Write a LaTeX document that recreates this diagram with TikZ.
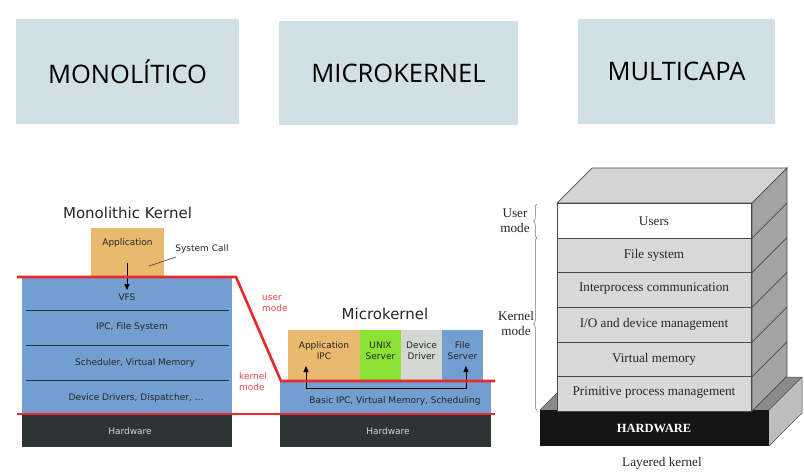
\documentclass[tikz,border=0pt]{standalone}
\usepackage{fontspec}
\setmainfont{DejaVu Sans}
\newfontfamily\titlefont{Open Sans}
\newfontfamily\seriffont{Liberation Serif}
\usetikzlibrary{decorations.pathreplacing,arrows.meta}
\definecolor{topbox}{HTML}{D1E0E4}
\definecolor{tblue}{HTML}{729FCF}
\definecolor{torange}{HTML}{E9B96E}
\definecolor{tgreen}{HTML}{8AE234}
\definecolor{tgray}{HTML}{D3D7CF}
\definecolor{tdark}{HTML}{2E3436}
\definecolor{tred}{HTML}{E8282B}
\definecolor{tredtext}{HTML}{E0484B}
\definecolor{sepline}{HTML}{1F2F45}
\definecolor{layfront}{HTML}{D9D9D9}
\definecolor{laytop}{HTML}{D4D4D4}
\definecolor{layside}{HTML}{A3A3A3}
\definecolor{layedge}{HTML}{4A4A4A}
\tikzset{
  topsq/.style={fill=topbox, inner sep=0pt, font=\titlefont\fontsize{25.5}{28}\selectfont},
  blk/.style={inner sep=0pt, draw=none},
  dtxt/.style={inner sep=0pt, font=\fontsize{9}{11}\selectfont, text=black!85},
  ttl/.style={inner sep=0pt, font=\fontsize{15}{18}\selectfont, text=black!85},
  redtxt/.style={inner sep=0pt, font=\fontsize{9}{11}\selectfont, text=tredtext, align=left, anchor=west},
  redline/.style={draw=tred, line width=2.6pt},
  laytxt/.style={inner sep=0pt, font=\seriffont\fontsize{13.2}{15}\selectfont, text=black!85},
  layrow/.style={fill=layfront, draw=layedge, line width=0.7pt, inner sep=0pt, minimum width=194, minimum height=34.7},
  brc/.style={draw=black!55, line width=0.5pt, decorate, decoration={brace, amplitude=3.5pt}},
}
\begin{document}
\begin{tikzpicture}[x=1pt,y=-1pt]
\useasboundingbox (0,0) rectangle (804,475);

% ---------- top title boxes ----------
\node[topsq, minimum width=223, minimum height=105] (mono) at (127.5,71.5) {MONOLÍTICO};
\node[topsq, minimum width=239, minimum height=104] (micro) at (398.5,73) {MICROKERNEL};
\node[topsq, minimum width=197, minimum height=105] (multi) at (676.5,71.5) {MULTICAPA};

% ---------- Monolithic kernel ----------
\node[ttl] (monottl) at (127.5,213) {Monolithic Kernel};
\node[blk, fill=torange, minimum width=73, minimum height=49] (app) at (127.5,252.5) {};
\node[dtxt] (apptxt) at (127.5,243) {Application};
\node[blk, fill=tblue, minimum width=210, minimum height=137] (monok) at (127,345.5) {};
\node[blk, fill=tdark, minimum width=210, minimum height=33] (monohw) at (127,430.5) {};
\node[dtxt, text=tgray] (monohwtxt) at (130,431) {Hardware};
\coordinate (s1a) at (26,310); \coordinate (s1b) at (229,310);
\coordinate (s2a) at (26,345); \coordinate (s2b) at (229,345);
\coordinate (s3a) at (26,380); \coordinate (s3b) at (229,380);
\draw[sepline, line width=0.8pt] (s1a) -- (s1b) (s2a) -- (s2b) (s3a) -- (s3b);
\node[dtxt] (vfs) at (127,297) {VFS};
\node[dtxt] (ipcfs) at (132,327) {IPC, File System};
\node[dtxt] (sched) at (135,363) {Scheduler, Virtual Memory};
\node[dtxt] (devdr) at (136,398) {Device Drivers, Dispatcher, ...};
\node[dtxt] (syscall) at (202,249) {System Call};
\coordinate (sca) at (149,266); \coordinate (scb) at (176,257);
\draw[black!80, line width=0.6pt] (sca) -- (scb);
\coordinate (arra) at (127,263); \coordinate (arrb) at (127,290);
\draw[black, line width=0.7pt, -{Triangle[length=6pt,width=5pt]}] (arra) -- (arrb);

% ---------- Microkernel ----------
\node[ttl] (microttl) at (385,314) {Microkernel};
\node[blk, fill=torange, minimum width=72, minimum height=51] (appipc) at (324,355.5) {};
\node[blk, fill=tgreen, minimum width=41, minimum height=51] (unix) at (380.5,355.5) {};
\node[blk, fill=tgray, minimum width=41, minimum height=51] (devd) at (421.5,355.5) {};
\node[blk, fill=tblue, minimum width=41, minimum height=51] (files) at (462.5,355.5) {};
\node[dtxt, align=center] (appipctxt) at (324,351) {Application\\IPC};
\node[dtxt, align=center] (unixtxt) at (380.5,351) {UNIX\\Server};
\node[dtxt, align=center] (devdtxt) at (421.5,351) {Device\\Driver};
\node[dtxt, align=center] (filestxt) at (462.5,351) {File\\Server};
\node[blk, fill=tblue, minimum width=211, minimum height=34] (microk) at (385.5,398) {};
\node[dtxt] (microktxt) at (395,401) {Basic IPC, Virtual Memory, Scheduling};
\node[blk, fill=tdark, minimum width=211, minimum height=32] (microhw) at (385.5,431) {};
\node[dtxt, text=tgray] (microhwtxt) at (388,431) {Hardware};
\coordinate (ma) at (306,366); \coordinate (mb) at (306,388);
\coordinate (mc) at (466,388); \coordinate (md) at (466,366);
\draw[black, line width=0.7pt, {Triangle[length=6pt,width=5pt]}-{Triangle[length=6pt,width=5pt]}] (ma) -- (mb) -- (mc) -- (md);

% ---------- mode boundaries ----------
\coordinate (r1) at (17,277); \coordinate (r2) at (236,277);
\coordinate (r3) at (281,381); \coordinate (r4) at (495,381);
\coordinate (r5) at (17,414); \coordinate (r6) at (495,414);
\draw[redline] (r1) -- (r2) -- (r3) -- (r4);
\draw[redline] (r5) -- (r6);
\node[redtxt] (umode) at (262,303.5) {user\\mode};
\node[redtxt] (kmode) at (239,382) {kernel\\mode};

% ---------- Layered kernel ----------
% hardware slab
\fill[layside!85!black] (540,410) -- (573,377) -- (802,377) -- (769,410) -- cycle;
\fill[layside!70!white] (769,410) -- (802,377) -- (802,413) -- (769,446) -- cycle;
\draw[layedge, line width=0.5pt] (540,410) -- (573,377) -- (802,377) -- (769,410) (802,377) -- (802,413) -- (769,446);
\node[blk, fill=black!92, minimum width=229, minimum height=36] (hwslab) at (654.5,428) {};
\node[inner sep=0pt, font=\seriffont\bfseries\fontsize{12.5}{14}\selectfont, text=white] (hwtxt) at (654,428) {HARDWARE};
% stack top and side
\filldraw[fill=laytop, draw=layedge, line width=0.7pt] (557,203) -- (592,168) -- (787,168) -- (752,203) -- cycle;
\filldraw[fill=layside, draw=layedge, line width=0.7pt] (752,203) -- (787,168) -- (787,376) -- (752,411) -- cycle;
\foreach \yy in {238,272.7,307.4,342.1,376.8} {
  \draw[layedge, line width=0.7pt] (752,\yy) -- (787,\yy-35);
}
% front rows
\node[layrow, fill=white] (users) at (654.5,220.5) {};
\node[layrow] (fsys) at (654.5,255.3) {};
\node[layrow] (ipcl) at (654.5,290) {};
\node[layrow] (iol) at (654.5,324.7) {};
\node[layrow] (vml) at (654.5,359.4) {};
\node[layrow] (ppm) at (654.5,394.1) {};
\node[laytxt] (userst) at (654,221) {Users};
\node[laytxt] (fsyst) at (654,255) {File system};
\node[laytxt] (ipclt) at (654,289) {Interprocess communication};
\node[laytxt] (iolt) at (654,324) {I/O and device management};
\node[laytxt] (vmlt) at (654,359) {Virtual memory};
\node[laytxt] (ppmt) at (654,393) {Primitive process management};
\node[laytxt] (laycap) at (662,463) {Layered kernel};
% mode braces
\coordinate (b1) at (537,238); \coordinate (b2) at (537,204);
\coordinate (b3) at (537,410); \coordinate (b4) at (537,238);
\draw[brc] (b1) -- (b2);
\draw[brc] (b3) -- (b4);
\node[laytxt, align=center, font=\seriffont\fontsize{13.2}{15}\selectfont] (umodel) at (515,220.5) {User\\mode};
\node[laytxt, align=center, font=\seriffont\fontsize{13.2}{15}\selectfont] (kmodel) at (516,323) {Kernel\\mode};
\end{tikzpicture}
\end{document}
